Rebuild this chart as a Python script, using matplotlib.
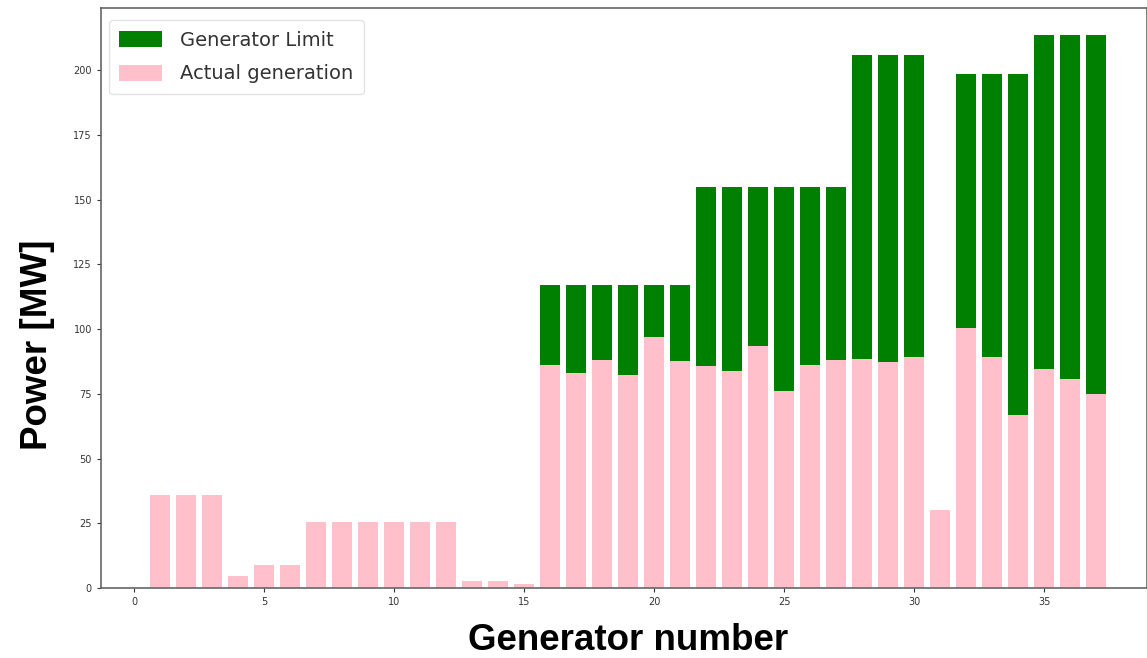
import matplotlib
matplotlib.use("Agg")
import matplotlib.pyplot as plt
import numpy as np

generators = list(range(38))
limit = [0, 36, 36, 36, 4.8, 8.8, 8.8, 25.4, 25.4, 25.4, 25.4, 25.4, 25.4, 2.8, 2.8, 1.5,
         117, 117, 117, 117, 117, 117,
         155, 155, 155, 155, 155, 155,
         206, 206, 206, 30,
         198.5, 198.5, 198.5,
         213.5, 213.5, 213.5]
actual = [0, 36, 36, 36, 4.8, 8.8, 8.8, 25.4, 25.4, 25.4, 25.4, 25.4, 25.4, 2.8, 2.8, 1.5,
          86.3, 83.1, 88.0, 82.4, 97.0, 87.6,
          85.6, 83.7, 93.4, 76.2, 86.0, 88.0,
          88.5, 87.3, 89.4, 30.0,
          100.4, 89.4, 66.7,
          84.4, 80.7, 74.9]

fig = plt.figure(figsize=(11.47, 6.58), dpi=100)
ax = fig.add_axes([101/1147, 70/658, 1 - 101/1147, (588 - 8)/658])

ax.bar(generators, limit, width=0.8, color="green", label="Generator Limit")
ax.bar(generators, actual, width=0.8, color="pink", label="Actual generation")

ax.set_xlim(-1.27, 38.96)
ax.set_ylim(0, 224)
ax.set_xticks([0, 5, 10, 15, 20, 25, 30, 35])
ax.set_yticks([0, 25, 50, 75, 100, 125, 150, 175, 200])
ax.tick_params(labelsize=7, length=3, colors="#333333")
for s in ax.spines.values():
    s.set_color("#666666")
    s.set_linewidth(1.2)

leg = ax.legend(loc="upper left", fontsize=14, frameon=True, borderpad=0.55,
                handlelength=2.2, handleheight=0.9, handletextpad=0.9, labelspacing=0.75,
                bbox_to_anchor=(-0.002, 0.996))
leg.get_frame().set_edgecolor("#dddddd")
for t in leg.get_texts():
    t.set_color("#333333")

fig.text(38/1147, 1 - 345/658, "Power [MW]", rotation=90, ha="center", va="center",
         fontsize=26.5, fontweight="bold", family="Liberation Sans")
fig.text(628/1147, 1 - 640/658, "Generator number", ha="center", va="center",
         fontsize=26.5, fontweight="bold", family="Liberation Sans")

fig.savefig("out.png", dpi=100)
